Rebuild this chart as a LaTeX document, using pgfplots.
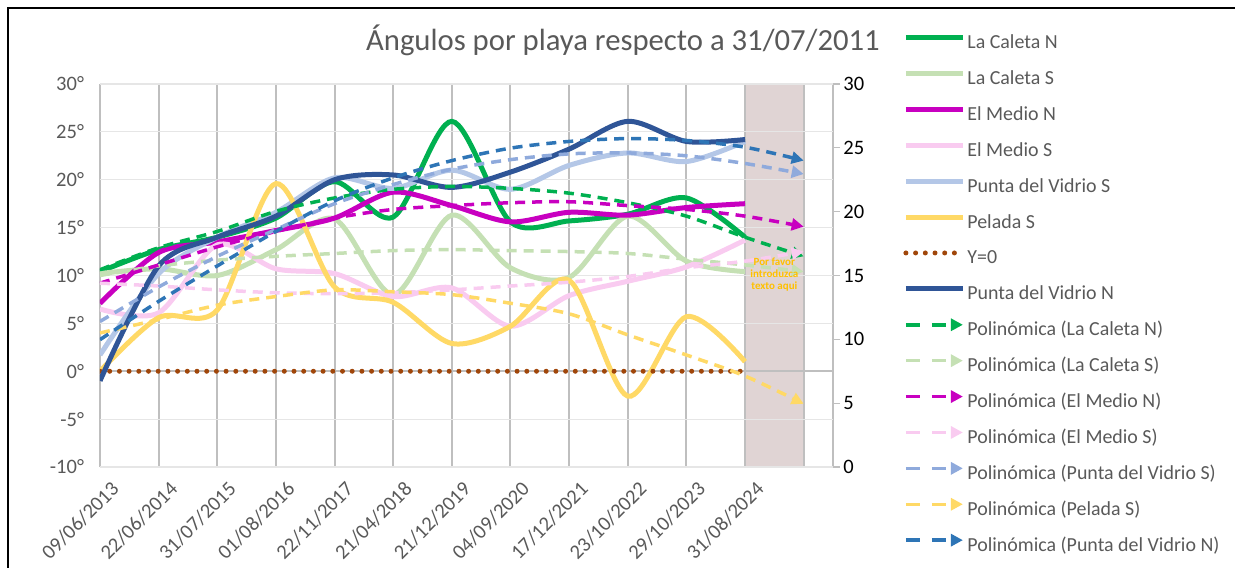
\documentclass[border=0pt]{standalone}
\usepackage{fontspec}
\setmainfont{Carlito}
\usepackage{pgfplots}
\pgfplotsset{compat=1.18}
\usetikzlibrary{arrows.meta}

\definecolor{cText}{HTML}{595959}
\definecolor{cGridV}{HTML}{BFBFBF}
\definecolor{cGridH}{HTML}{E6E6E6}
\definecolor{cLCN}{HTML}{00B050}
\definecolor{cLCS}{HTML}{C5E0B4}
\definecolor{cEMN}{HTML}{C800C0}
\definecolor{cEMS}{HTML}{F9CBF0}
\definecolor{cPVS}{HTML}{B4C7E7}
\definecolor{cPel}{HTML}{FFD966}
\definecolor{cY0}{HTML}{A0460A}
\definecolor{cPVN}{HTML}{2F5597}
\definecolor{tPVS}{HTML}{8FAADC}
\definecolor{tPVN}{HTML}{2E75B6}
\definecolor{cCol}{HTML}{E0D4D4}
\definecolor{cNote}{HTML}{FFC000}

\pgfplotsset{
  serie/.style={line width=2.5bp, smooth, tension=0.5},
  trend/.style={line width=1.75bp, smooth, tension=0.5,
    dash pattern=on 5bp off 3.5bp,
    -{Triangle[length=6bp,width=6bp]},
    legend image post style={dash pattern=on 7bp off 6bp}},
  frame/.style={anchor=south west, scale only axis,
    width=366.5bp, height=191.5bp, xmin=0, xmax=12.5},
}

\begin{document}
\begin{tikzpicture}
% page = 1235x568 px, 1 px = 0.5bp; axis south west corner at px (100,467)
\useasboundingbox (-50bp,-50.5bp) rectangle (567.5bp,233.5bp);
\draw[black, line width=1.3bp] (-46bp,-80bp) -- (-46bp,229.5bp) -- (600bp,229.5bp);
\node[font=\fontsize{15.4}{18}\selectfont, text=cText] at (261.5bp,213.5bp)
  {Ángulos por playa respecto a 31/07/2011};

% secondary axis with the shaded column
\begin{axis}[
  frame, ymin=0, ymax=30,
  axis x line=none, axis y line*=right,
  axis line style={draw=cGridV, line width=0.6bp},
  ytick={0,5,...,30}, yticklabels={0,5,10,15,20,25,30},
  tick align=outside, major tick length=3.5bp,
  tick style={draw=cGridV, line width=0.6bp},
  yticklabel style={font=\fontsize{10.3}{12}\selectfont, text=black, inner sep=1.5bp},
]
\addplot[fill=cCol, draw=none] coordinates {(11,30) (12,30)} \closedcycle;
\end{axis}

% primary axis
\begin{axis}[
  frame, ymin=-10, ymax=30,
  axis line style={draw=none}, major tick length=0pt,
  xtick={0,...,12},
  xticklabels={09/06/2013,22/06/2014,31/07/2015,01/08/2016,22/11/2017,21/04/2018,
    21/12/2019,04/09/2020,17/12/2021,23/10/2022,29/10/2023,31/08/2024,{}},
  ytick={-10,-5,...,30},
  yticklabels={-10°,-5°,0°,5°,10°,15°,20°,25°,30°},
  xmajorgrids, ymajorgrids,
  x grid style={draw=cGridV, line width=1bp},
  y grid style={draw=cGridH, line width=0.6bp},
  xticklabel style={rotate=45, anchor=north east, font=\fontsize{10.3}{12}\selectfont,
    text=cText, inner sep=1.5bp, yshift=-6.5bp, xshift=0.5bp},
  yticklabel style={font=\fontsize{10.3}{12}\selectfont, text=cText, xshift=-4.5bp},
  legend style={at={(1.0955,1.1535)}, anchor=north west, draw=none, fill=none,
    inner sep=0pt, row sep=0pt, column sep=1bp,
    font=\fontsize{10}{12}\selectfont, text=cText,
    nodes={inner sep=0pt, text height=7.5bp, text depth=2.5bp, minimum height=17.95bp}},
  legend cell align=left,
  legend image code/.code={\draw[#1] (0bp,3bp) -- (28.5bp,3bp);},
]
\draw[cGridV, line width=0.8bp] (axis cs:0,0) -- (axis cs:12.5,0);

\addplot[serie, cLCN] coordinates {(0,10.4) (1,12.7) (2,14.0) (3,16.0) (4,19.8) (5,16.1)
  (6,26.1) (7,15.6) (8,15.7) (9,16.4) (10,18.1) (11,14.0)};
\addlegendentry{La Caleta N}
\addplot[serie, cLCS] coordinates {(0,10.2) (1,10.7) (2,10.0) (3,12.7) (4,15.9) (5,8.0)
  (6,16.3) (7,10.8) (8,9.8) (9,16.2) (10,11.5) (11,10.4)};
\addlegendentry{La Caleta S}
\addplot[serie, cEMN] coordinates {(0,7.1) (1,12.4) (2,13.5) (3,14.7) (4,16.0) (5,18.7)
  (6,17.3) (7,15.6) (8,16.6) (9,16.3) (10,17.1) (11,17.5)};
\addlegendentry{El Medio N}
\addplot[serie, cEMS] coordinates {(0,6.5) (1,6.1) (2,13.2) (3,10.7) (4,10.2) (5,7.8)
  (6,8.7) (7,4.7) (8,7.9) (9,9.4) (10,10.9) (11,13.7)};
\addlegendentry{El Medio S}
\addplot[serie, cPVS] coordinates {(0,1.7) (1,10.2) (2,14.0) (3,16.6) (4,20.2) (5,19.1)
  (6,21.0) (7,19.0) (8,21.5) (9,22.8) (10,21.9) (11,24.0)};
\addlegendentry{Punta del Vidrio S}
\addplot[serie, cPel] coordinates {(0,0.0) (1,5.6) (2,6.4) (3,19.6) (4,8.8) (5,7.2)
  (6,2.9) (7,4.7) (8,9.5) (9,-2.6) (10,5.7) (11,1.0)};
\addlegendentry{Pelada S}
\addplot[cY0, line width=2.5bp, line cap=round, dash pattern=on 0bp off 4.85bp]
  coordinates {(0,0) (1,0) (2,0) (3,0) (4,0) (5,0) (6,0) (7,0) (8,0) (9,0) (10,0) (11,0)};
\addlegendentry{Y=0}
\addplot[serie, cPVN] coordinates {(0,-1.0) (1,11.0) (2,14.0) (3,16.2) (4,20.0) (5,20.5)
  (6,19.2) (7,20.8) (8,23.2) (9,26.1) (10,24.0) (11,24.2)};
\addlegendentry{Punta del Vidrio N}

\addplot[trend, cLCN] coordinates {(0,10.6) (1,12.9) (2,14.6) (3,16.7) (4,18.1) (5,19.0)
  (6,19.3) (7,19.1) (8,18.6) (9,17.6) (10,16.2) (11,14.0) (12,12.0)};
\addlegendentry{Polinómica (La Caleta N)}
\addplot[trend, cLCS] coordinates {(0,10.0) (1,11.0) (2,11.6) (3,12.0) (4,12.3) (5,12.6)
  (6,12.7) (7,12.6) (8,12.5) (9,12.3) (10,11.7) (11,11.1) (12,10.4)};
\addlegendentry{Polinómica (La Caleta S)}
\addplot[trend, cEMN] coordinates {(0,9.2) (1,11.1) (2,13.0) (3,14.6) (4,16.0) (5,16.9)
  (6,17.3) (7,17.6) (8,17.7) (9,17.3) (10,16.9) (11,16.2) (12,15.1)};
\addlegendentry{Polinómica (El Medio N)}
\addplot[trend, cEMS] coordinates {(0,9.2) (1,8.9) (2,8.5) (3,8.2) (4,8.1) (5,8.2)
  (6,8.5) (7,8.9) (8,9.3) (9,9.9) (10,10.8) (11,11.5) (12,12.5)};
\addlegendentry{Polinómica (El Medio S)}
\addplot[trend, tPVS] coordinates {(0,5.2) (1,8.8) (2,12.0) (3,14.8) (4,17.5) (5,19.5)
  (6,21.1) (7,22.1) (8,22.7) (9,22.8) (10,22.5) (11,21.7) (12,20.6)};
\addlegendentry{Polinómica (Punta del Vidrio S)}
\addplot[trend, cPel] coordinates {(0,4.0) (1,5.4) (2,6.9) (3,7.8) (4,8.5) (5,8.3)
  (6,8.0) (7,7.1) (8,6.0) (9,3.8) (10,1.7) (11,-0.5) (12,-3.4)};
\addlegendentry{Polinómica (Pelada S)}
\addplot[trend, tPVN] coordinates {(0,3.3) (1,7.3) (2,11.0) (3,14.6) (4,17.8) (5,20.2)
  (6,22.0) (7,23.3) (8,24.0) (9,24.3) (10,24.1) (11,23.4) (12,22.0)};
\addlegendentry{Polinómica (Punta del Vidrio N)}

\node[align=center, font=\bfseries\fontsize{5.5}{6}\selectfont, text=cNote]
  at (axis cs:11.5,10.1) {Por favor\\introduzca\\texto aqui};
\end{axis}
\end{tikzpicture}
\end{document}
